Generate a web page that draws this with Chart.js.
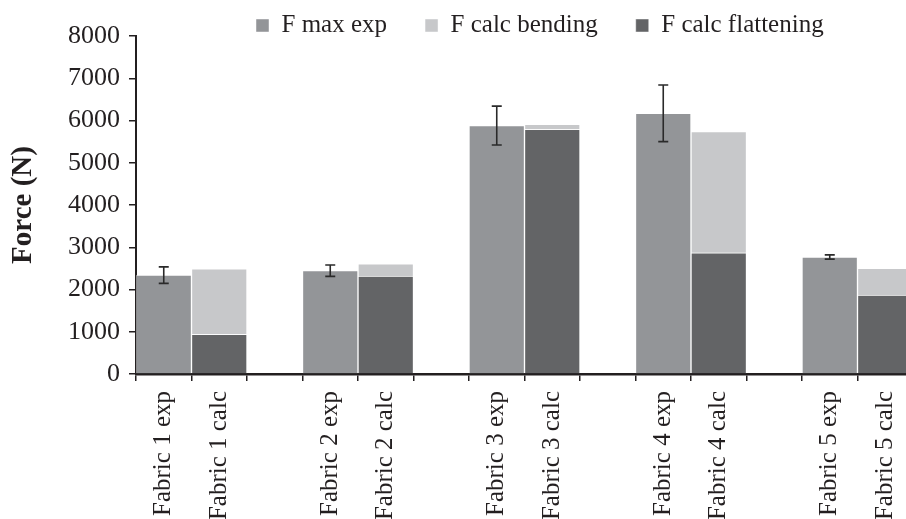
<!DOCTYPE html>
<html>
<head>
<meta charset="utf-8">
<script src="https://cdn.jsdelivr.net/npm/chart.js@4"></script>
<style>
  html, body { margin: 0; padding: 0; background: #ffffff; overflow: hidden; }
  canvas { display: block; }
</style>
</head>
<body>
<canvas id="chart" width="930" height="540"></canvas>
<script>
// Categories along the x axis (empty strings are the gaps between fabrics)
const categories = [
  'Fabric 1 exp', 'Fabric 1 calc', '',
  'Fabric 2 exp', 'Fabric 2 calc', '',
  'Fabric 3 exp', 'Fabric 3 calc', '',
  'Fabric 4 exp', 'Fabric 4 calc', '',
  'Fabric 5 exp', 'Fabric 5 calc'
];

// Series names as shown in the legend
const seriesNames = ['F max exp', 'F calc bending', 'F calc flattening'];

// Measured maximum force and its spread (N)
const maxExp    = [2340, null, null, 2445, null, null, 5880, null, null, 6170, null, null, 2770, null];
const maxExpErr = [ 195, null, null,  135, null, null,  460, null, null,  670, null, null,   50, null];

// Calculated force: flattening part at the bottom, bending part stacked on top (N)
const calcFlattening = [null,  940, null, null, 2320, null, null, 5790, null, null, 2870, null, null, 1870];
const calcBending    = [null, 1550, null, null,  290, null, null,  120, null, null, 2870, null, null,  630];

// Value axis ticks
const yTicks = [0, 1000, 2000, 3000, 4000, 5000, 6000, 7000, 8000];

// ---- styling ----
const FONT = '"Liberation Serif", "Times New Roman", Times, serif';
const INK = '#231f20';
const COLORS = { exp: '#939598', bending: '#c7c8ca', flattening: '#636466' };
const CANVAS_H = 540;
const PLOT_LEFT = 136;
const PLOT_BOTTOM = 374;
const LEGEND_LEFT = 256;
const LEGEND_MID = 25.5;

// Moves the legend row to its place above the plot
const legendPlacer = {
  id: 'legendPlacer',
  afterLayout(chart) {
    const lg = chart.legend;
    const pad = lg.options.labels.padding;
    const size = lg.options.labels.font.size;
    lg.left = LEGEND_LEFT - pad;
    lg.right = lg.left + lg.width;
    lg.top = LEGEND_MID - pad - size / 2;
    lg.bottom = lg.top + 120;
  }
};

// Draws the spread of the measured values as I-shaped error bars
const errorBars = {
  id: 'errorBars',
  afterDatasetsDraw(chart) {
    const ctx = chart.ctx;
    const yScale = chart.scales.y;
    const meta = chart.getDatasetMeta(0);
    ctx.save();
    ctx.strokeStyle = '#2a2a2a';
    ctx.lineWidth = 1.6;
    meta.data.forEach((bar, i) => {
      const v = maxExp[i];
      const e = maxExpErr[i];
      if (v == null || e == null) return;
      const x = bar.x;
      const yTop = yScale.getPixelForValue(v + e);
      const yBot = yScale.getPixelForValue(v - e);
      const cap = 5;
      ctx.beginPath();
      ctx.moveTo(x, yTop); ctx.lineTo(x, yBot);
      ctx.moveTo(x - cap, yTop); ctx.lineTo(x + cap, yTop);
      ctx.moveTo(x - cap, yBot); ctx.lineTo(x + cap, yBot);
      ctx.stroke();
    });
    ctx.restore();
  }
};

const barStyle = {
  borderColor: 'rgba(255,255,255,0.45)',
  borderWidth: 1,
  barPercentage: 1,
  categoryPercentage: 1
};

new Chart(document.getElementById('chart'), {
  type: 'bar',
  data: {
    labels: categories,
    datasets: [
      Object.assign({ label: seriesNames[0], data: maxExp, backgroundColor: COLORS.exp }, barStyle),
      Object.assign({ label: seriesNames[2], data: calcFlattening, backgroundColor: COLORS.flattening }, barStyle),
      Object.assign({ label: seriesNames[1], data: calcBending, backgroundColor: COLORS.bending }, barStyle)
    ]
  },
  options: {
    responsive: false,
    animation: false,
    devicePixelRatio: 1,
    layout: { padding: { left: 0, right: 17, top: 0, bottom: 0 } },
    plugins: {
      tooltip: { enabled: false },
      legend: {
        position: 'top',
        align: 'start',
        maxHeight: 36,
        labels: {
          boxWidth: 13,
          boxHeight: 13,
          padding: 38,
          color: INK,
          font: { family: FONT, size: 25 },
          sort: (a, b) => seriesNames.indexOf(a.text) - seriesNames.indexOf(b.text)
        }
      }
    },
    scales: {
      x: {
        stacked: true,
        border: { display: true, color: INK, width: 2.5 },
        grid: { drawOnChartArea: false, drawTicks: true, tickLength: 7, color: INK, lineWidth: 1.5, offset: true },
        ticks: {
          color: INK,
          font: { family: FONT, size: 25 },
          padding: 10,
          minRotation: 90,
          maxRotation: 90,
          autoSkip: false
        },
        afterFit: (s) => {
          s.height = CANVAS_H - PLOT_BOTTOM;
          s.paddingLeft = 0;
          s.paddingRight = 0;
        }
      },
      y: {
        stacked: true,
        min: 0,
        max: 8000,
        border: { display: true, color: INK, width: 2 },
        grid: { drawOnChartArea: false, drawTicks: true, tickLength: 7, color: INK, lineWidth: 1.5 },
        ticks: {
          color: INK,
          font: { family: FONT, size: 26 },
          padding: 9,
          callback: (v) => String(v)
        },
        afterBuildTicks: (s) => { s.ticks = yTicks.map(v => ({ value: v })); },
        title: {
          display: true,
          text: 'Force (N)',
          color: INK,
          font: { family: FONT, size: 29, weight: 'bold' },
          padding: { top: 6, bottom: 0 }
        },
        afterFit: (s) => { s.width = PLOT_LEFT; }
      }
    }
  },
  plugins: [legendPlacer, errorBars]
});
</script>
</body>
</html>
